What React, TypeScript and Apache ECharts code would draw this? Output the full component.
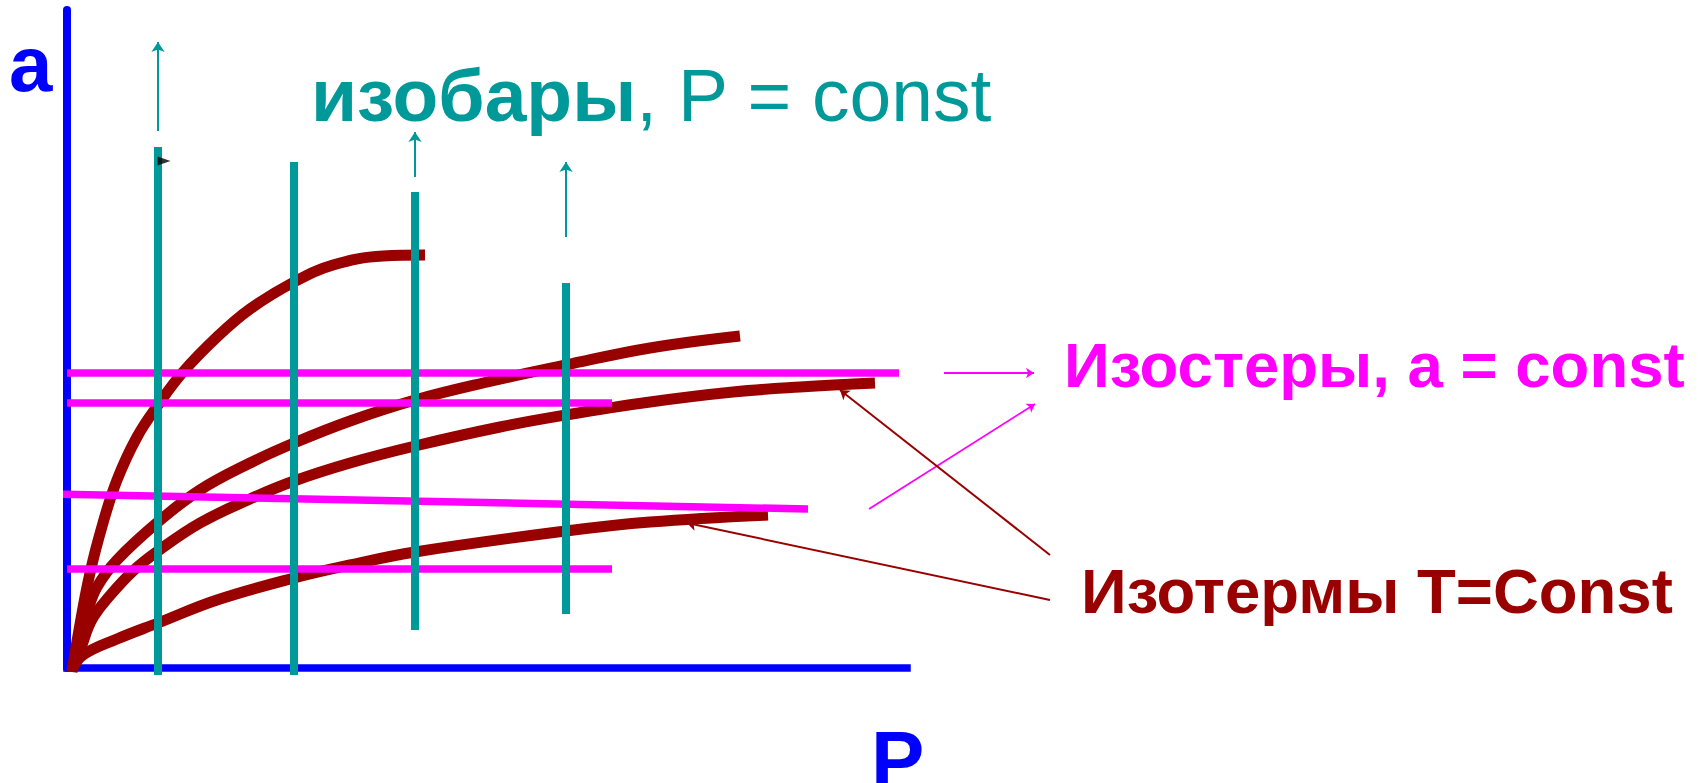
import React, { useEffect, useRef } from "react";
import * as echarts from "echarts";

// Schematic units: P axis 0..84, a axis 0..65.8
const isobarX = [9.1, 22.7, 34.8, 49.9];
const isobarTop = [52.1, 50.6, 47.6, 38.5];
const isobarBottom = [-0.7, -0.7, 3.8, 5.4];
// [x, from, to] of the thin arrows above the isobars
const isobarArrows = [
  [9.1, 53.7, 62.6],
  [34.8, 49.1, 53.6],
  [49.9, 43.1, 50.6],
];
const markerPoint = [9.7, 50.7];

// isosteres: [x1, y1, x2, y2]
const isostereLines = [
  [0, 29.5, 83.2, 29.5],
  [0, 26.5, 54.5, 26.5],
  [-1.5, 17.4, 74.1, 15.9],
  [0, 9.9, 54.5, 9.9],
];

// isotherms
const curveA = [
  [0.5, -0.4], [1.2, 3.8], [2.3, 9.5], [3.6, 14.5], [5.0, 18.8],
  [7.0, 23.1], [9.1, 26.3], [11.6, 29.6], [15.0, 33.1], [18.3, 35.9],
  [22.7, 38.6], [26.6, 40.3], [31.6, 41.2], [35.8, 41.3],
];
const curveB = [
  [0.5, -0.2], [1.3, 2.8], [2.1, 5.8], [3.0, 8.1], [5.0, 10.8], [9.1, 14.6],
  [13.3, 17.8], [18.3, 20.5], [22.7, 22.5], [28.3, 24.7], [34.8, 26.8],
  [41.6, 28.5], [49.9, 30.3], [58.3, 32.0], [67.3, 33.2],
];
const curveC = [
  [0.5, -0.2], [1.5, 2.3], [2.1, 4.0], [2.7, 5.2], [4.0, 6.9], [6.6, 9.7],
  [9.1, 11.7], [13.3, 14.5], [18.3, 16.9], [22.7, 18.7], [28.3, 20.5],
  [34.8, 22.2], [43.3, 24.1], [49.9, 25.3], [58.3, 26.6], [66.6, 27.6],
  [73.3, 28.1], [80.8, 28.5],
];
const curveD = [
  [0.5, -0.2], [1.6, 1.3], [5.0, 2.9], [9.1, 4.5], [15.0, 6.8], [22.7, 9.0],
  [28.3, 10.3], [34.8, 11.6], [49.9, 13.7], [58.3, 14.6], [70.1, 15.3],
];
const isotherms = [curveA, curveB, curveC, curveD];

const magentaArrows = [
  [[87.7, 29.5], [96.7, 29.5]],
  [[80.2, 15.9], [96.8, 26.4]],
];
const redArrows = [
  [[98.3, 11.3], [77.3, 27.8]],
  [[98.3, 6.8], [62.0, 14.5]],
];

const titleBold = "изобары";
const titleRest = ", P = const";
const isostereLabel = "Изостеры, a = const";
const isothermLabel = "Изотермы T=Const";
const yName = "a";
const xName = "P";

const BLUE = "#0000FF";
const TEAL = "#009999";
const MAGENTA = "#FF00FF";
const DARKRED = "#990000";
const FONT = "'Liberation Sans', Arial, sans-serif";

export default function App() {
  const ref = useRef<HTMLDivElement>(null);
  useEffect(() => {
    if (!ref.current) return;
    const chart = echarts.init(ref.current, null, { renderer: "svg" });
    const series: any[] = [];
    isotherms.forEach((c, i) => {
      series.push({
        type: "line",
        name: "T" + i,
        data: c,
        smooth: 0.4,
        showSymbol: false,
        clip: false,
        z: 2,
        lineStyle: { color: DARKRED, width: 11 },
      });
    });
    isostereLines.forEach((l, i) => {
      series.push({
        type: "line",
        name: "a" + i,
        data: [[l[0], l[1]], [l[2], l[3]]],
        showSymbol: false,
        clip: false,
        z: 3,
        lineStyle: { color: MAGENTA, width: 7.5 },
      });
    });
    isobarX.forEach((x, i) => {
      series.push({
        type: "line",
        name: "P" + i,
        data: [[x, isobarBottom[i]], [x, isobarTop[i]]],
        showSymbol: false,
        clip: false,
        z: 4,
        lineStyle: { color: TEAL, width: 8 },
      });
    });
    series.push({
      type: "lines",
      coordinateSystem: "cartesian2d",
      clip: false,
      z: 5,
      symbol: ["none", "arrow"],
      symbolSize: 10,
      lineStyle: { color: TEAL, width: 2, opacity: 1, curveness: 0 },
      data: isobarArrows.map((a) => ({ coords: [[a[0], a[1]], [a[0], a[2]]] })),
    });
    series.push({
      type: "lines",
      coordinateSystem: "cartesian2d",
      clip: false,
      z: 5,
      symbol: ["none", "arrow"],
      symbolSize: 8,
      lineStyle: { color: MAGENTA, width: 1.8, opacity: 1, curveness: 0 },
      data: magentaArrows.map((c) => ({ coords: c })),
    });
    series.push({
      type: "lines",
      coordinateSystem: "cartesian2d",
      clip: false,
      z: 5,
      symbol: ["none", "arrow"],
      symbolSize: 9,
      lineStyle: { color: DARKRED, width: 2, opacity: 1, curveness: 0 },
      data: redArrows.map((c) => ({ coords: c })),
    });
    series.push({
      type: "scatter",
      z: 6,
      symbol: "triangle",
      symbolRotate: -90,
      symbolSize: [9, 13],
      itemStyle: { color: "#000000" },
      data: [markerPoint],
    });

    const option: any = {
      animation: false,
      backgroundColor: "#ffffff",
      grid: { left: 67, top: 10, width: 840, height: 658, containLabel: false },
      xAxis: {
        type: "value",
        min: 0,
        max: 84,
        axisLine: { show: true, onZero: false, lineStyle: { color: BLUE, width: 7.5, cap: "square" } },
        axisTick: { show: false },
        axisLabel: { show: false },
        splitLine: { show: false },
      },
      yAxis: {
        type: "value",
        min: 0,
        max: 65.8,
        axisLine: { show: true, onZero: false, lineStyle: { color: BLUE, width: 8 } },
        axisTick: { show: false },
        axisLabel: { show: false },
        splitLine: { show: false },
      },
      series,
      graphic: [
        {
          type: "text",
          x: 9,
          y: 64,
          style: {
            text: yName,
            fill: BLUE,
            font: `bold 78px ${FONT}`,
            verticalAlign: "middle",
          },
        },
        {
          type: "text",
          x: 871,
          y: 759,
          style: {
            text: xName,
            fill: BLUE,
            font: `bold 80px ${FONT}`,
            verticalAlign: "middle",
          },
        },
        {
          type: "text",
          x: 311,
          y: 95,
          style: {
            text: `{b|${titleBold}}{n|${titleRest}}`,
            verticalAlign: "middle",
            rich: {
              b: { fill: TEAL, fontSize: 75, fontWeight: "bold", fontFamily: FONT },
              n: { fill: TEAL, fontSize: 75, fontWeight: "normal", fontFamily: FONT },
            },
          },
        },
        {
          type: "text",
          x: 1064,
          y: 365,
          style: {
            text: isostereLabel,
            fill: MAGENTA,
            font: `bold 63.5px ${FONT}`,
            verticalAlign: "middle",
          },
        },
        {
          type: "text",
          x: 1081,
          y: 591,
          style: {
            text: isothermLabel,
            fill: DARKRED,
            font: `bold 63.5px ${FONT}`,
            verticalAlign: "middle",
          },
        },
      ],
    };
    chart.setOption(option);
    return () => chart.dispose();
  }, []);
  return (
    <div
      ref={ref}
      style={{ position: "fixed", left: 0, top: 0, width: 1706, height: 783, background: "#fff" }}
    />
  );
}
